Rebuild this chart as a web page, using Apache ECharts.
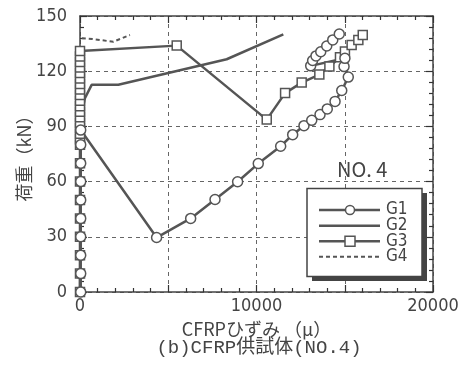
<!DOCTYPE html>
<html>
<head>
<meta charset="utf-8">
<script src="https://cdn.jsdelivr.net/npm/echarts@6/dist/echarts.min.js"></script>
<style>
  html, body { margin: 0; padding: 0; background: #fff; }
  #chart { width: 469px; height: 366px; }
</style>
</head>
<body>
<div id="chart"></div>
<script>
// strain (micro) vs load (kN)
const g1 = [
  [40, 0], [40, 10], [40, 20], [40, 30], [40, 40], [40, 50], [40, 60], [40, 70], [40, 80], [40, 88],
  [4340, 29.6], [6270, 40], [7650, 50.3], [8930, 59.9], [10100, 69.8], [11370, 79.2], [12050, 85.5],
  [12690, 90.4], [13130, 93.3], [13600, 96.4], [14010, 99.5], [14450, 103.6], [14830, 109.5],
  [15200, 116.8], [14960, 122.5], [15010, 127], [13070, 122.9], [13180, 125.8], [13370, 128.3],
  [13640, 130.6], [13980, 133.7], [14320, 137], [14690, 140.2]
];
const g2 = [
  [0, 0], [20, 30], [30, 60], [50, 95], [280, 105.4], [660, 112.6], [2170, 112.6],
  [8310, 126.5], [11520, 140]
];
const g3 = [
  [0, 0], [0, 10], [0, 20], [0, 30], [0, 40], [0, 50], [0, 60], [0, 70], [0, 80], [0, 83],
  [0, 86], [0, 89], [0, 92], [0, 95], [0, 98], [0, 101], [0, 104], [0, 107], [0, 110], [0, 113],
  [0, 116], [0, 119], [0, 122], [0, 125], [0, 128], [0, 131],
  [5480, 133.9], [10580, 93.7], [11620, 108.1], [12560, 113.8], [13560, 118.2], [14130, 122.5],
  [14730, 127.6], [15010, 130.7], [15390, 134.3], [15770, 137], [16020, 139.7]
];
const g4 = [[100, 137.9], [700, 137.5], [1890, 136], [2830, 139.7]];
const xLabels = { 0: '0', 10000: '10000', 20000: '20000' };
const legendNames = ['G1', 'G2', 'G3', 'G4'];

const ink = '#444';
const narrow = '"Liberation Sans Narrow", "DejaVu Sans Condensed", "Liberation Sans", sans-serif';
const cjk = '"Noto Sans CJK JP", sans-serif';
const mono = '"Liberation Mono", "Noto Sans CJK JP", monospace';

const chart = echarts.init(document.getElementById('chart'));

const tickStyle = {
  axisTick: { show: true, inside: true, length: 7, lineStyle: { color: '#333', width: 1.2 } },
  minorTick: { show: true, splitNumber: 5, length: 4, lineStyle: { color: '#333', width: 1.2 } }
};
const frameAxis = Object.assign({
  axisLine: { show: true, onZero: false, lineStyle: { color: ink, width: 1.5 } },
  axisLabel: { show: false },
  splitLine: { show: false }
}, tickStyle);

const lineSeries = (name, data, extra) => Object.assign({
  name: name,
  type: 'line',
  data: data,
  clip: false,
  lineStyle: { color: '#555', width: 2.5 },
  itemStyle: { color: '#fff', borderColor: '#555', borderWidth: 1.5 },
  z: 3
}, extra);

// hand-drawn legend box (lines, markers, labels), like the figure's
const legendRows = [210, 225.7, 241.3, 256.8];
const legendGraphics = [];
legendNames.forEach((n, i) => {
  const y = legendRows[i];
  legendGraphics.push({
    type: 'line', z: 7,
    shape: { x1: 319, y1: y, x2: 380, y2: y },
    style: { stroke: '#555', lineWidth: i === 3 ? 2 : 2.5, lineDash: i === 3 ? [4, 3] : null }
  });
  if (i === 0) {
    legendGraphics.push({ type: 'circle', z: 8, shape: { cx: 350, cy: y, r: 4.5 },
      style: { fill: '#fff', stroke: '#555', lineWidth: 1.5 } });
  }
  if (i === 2) {
    legendGraphics.push({ type: 'rect', z: 8, shape: { x: 345, y: y - 5, width: 10, height: 10 },
      style: { fill: '#fff', stroke: '#555', lineWidth: 1.5 } });
  }
  legendGraphics.push({
    type: 'text', z: 8, x: 386, y: y,
    style: { text: n, fill: ink, fontSize: 17, fontFamily: narrow, verticalAlign: 'middle' }
  });
});

chart.setOption({
  animation: false,
  backgroundColor: '#fff',
  grid: { left: 80, right: 36, top: 16, bottom: 74 },
  xAxis: [
    Object.assign({
      type: 'value', min: 0, max: 20000, interval: 5000, position: 'bottom',
      name: 'CFRPひずみ （μ）', nameLocation: 'middle', nameGap: 28, nameMoveOverlap: false,
      nameTextStyle: { color: ink, fontSize: 18, fontFamily: cjk },
      axisLine: { show: true, onZero: false, lineStyle: { color: ink, width: 1.5 } },
      axisLabel: {
        color: ink, fontSize: 18, fontFamily: narrow, margin: 5,
        formatter: v => xLabels[v] || ''
      },
      splitLine: { show: true, lineStyle: { color: '#666', type: [4, 4], width: 1 } }
    }, tickStyle),
    Object.assign({ type: 'value', min: 0, max: 20000, interval: 5000, position: 'top' }, frameAxis)
  ],
  yAxis: [
    Object.assign({
      type: 'value', min: 0, max: 150, interval: 30, position: 'left',
      name: '荷重（kN）', nameLocation: 'middle', nameGap: 47, nameMoveOverlap: false,
      nameTextStyle: { color: ink, fontSize: 18, fontFamily: cjk },
      axisLine: { show: true, onZero: false, lineStyle: { color: ink, width: 1.5 } },
      axisLabel: { color: ink, fontSize: 18, fontFamily: narrow, margin: 13 },
      splitLine: { show: true, lineStyle: { color: '#666', type: [4, 4], width: 1 } }
    }, tickStyle),
    Object.assign({ type: 'value', min: 0, max: 150, interval: 30, position: 'right' }, frameAxis)
  ],
  graphic: [
    { type: 'rect', z: 5, shape: { x: 312, y: 193, width: 115, height: 88 }, style: { fill: '#444' } },
    { type: 'rect', z: 6, shape: { x: 307, y: 188.5, width: 115, height: 88 },
      style: { fill: '#fff', stroke: '#444', lineWidth: 1.5 } },
    { type: 'text', z: 6, x: 337, y: 159,
      style: { text: 'NO. 4', fill: ink, fontSize: 20, fontFamily: cjk } },
    { type: 'text', z: 6, x: 259, y: 338,
      style: { text: '(b)CFRP供試体(NO.4)', fill: ink, fontSize: 19, fontFamily: mono, align: 'center' } }
  ].concat(legendGraphics),
  series: [
    lineSeries('G2', g2, { symbol: 'none' }),
    lineSeries('G4', g4, { symbol: 'none', lineStyle: { color: '#555', width: 2, type: [4, 3] } }),
    lineSeries('G3', g3, { symbol: 'rect', symbolSize: 9 }),
    lineSeries('G1', g1, { symbol: 'circle', symbolSize: 10 })
  ]
});
</script>
</body>
</html>
